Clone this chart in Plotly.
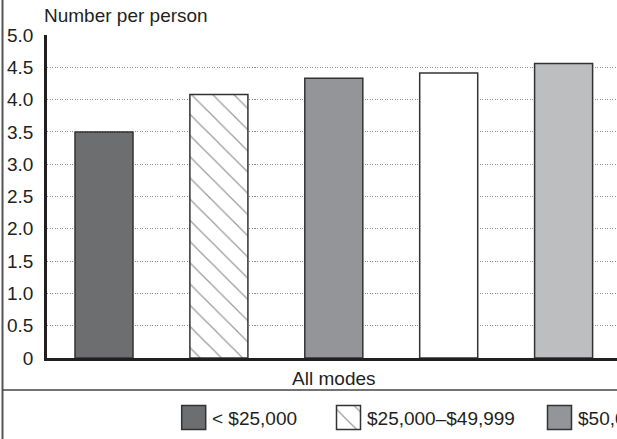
import plotly.graph_objects as go

# ---- data ----
categories = ["< $25,000", "$25,000\u2013$49,999", "$50,000\u2013$74,999",
              "$75,000\u2013$99,999", "$100,000 or more"]
values = [3.50, 4.08, 4.33, 4.41, 4.56]
group_label = ["All modes"]
y_tickvals = [0, 0.5, 1.0, 1.5, 2.0, 2.5, 3.0, 3.5, 4.0, 4.5, 5.0]
y_ticktext = ["0", "0.5", "1.0", "1.5", "2.0", "2.5", "3.0", "3.5", "4.0", "4.5", "5.0"]
y_title = "Number per person"

# ---- styles ----
W, H = 617, 439
FONT = "Liberation Sans, Arial, sans-serif"
FS = 19
TXT = "#231f20"
fills = ["#6d6e70", "white", "#939598", "white", "#bcbec0"]
patterns = ["", "\\", "", "", ""]
legend_x = [193.7, 348.5, 559.5, 760, 920]   # swatch centres in pixels

fig = go.Figure()

for i, (c, v) in enumerate(zip(categories, values)):
    pat = dict(shape=patterns[i], fgcolor="#333333", bgcolor="white",
               size=15, solidity=0.08, fillmode="overlay") if patterns[i] else None
    fig.add_trace(go.Bar(
        x=[i], y=[v], width=0.505, name=c,
        marker=dict(color=fills[i], line=dict(color="#333333", width=1.5),
                    pattern=pat),
        showlegend=False, xaxis="x", yaxis="y"))
    # legend swatch on a pixel-scaled helper axis
    fig.add_trace(go.Bar(
        x=[legend_x[i]], y=[24], base=[405.5], width=24,
        marker=dict(color=fills[i], line=dict(color="#333333", width=1.5),
                    pattern=pat),
        showlegend=False, xaxis="x2", yaxis="y2", hoverinfo="skip"))

annotations = []
for i, c in enumerate(categories):
    annotations.append(dict(x=legend_x[i] + 16, y=418, xref="x2", yref="y2",
                            text=c, showarrow=False, xanchor="left",
                            yanchor="middle",
                            font=dict(family=FONT, size=FS, color=TXT)))
annotations.append(dict(x=42 / W, y=1 - 16 / H, xref="paper", yref="paper",
                        text=y_title, showarrow=False, xanchor="left",
                        yanchor="middle",
                        font=dict(family=FONT, size=FS, color=TXT)))

unit = 114.9
left_px, right_px, c0 = 47, W, 104
fig.update_layout(
    template="none",
    width=W, height=H, margin=dict(l=0, r=0, t=0, b=0),
    paper_bgcolor="white", plot_bgcolor="rgba(0,0,0,0)",
    barmode="overlay",
    font=dict(family=FONT, size=FS, color=TXT),
    xaxis=dict(domain=[left_px / W, 1], automargin=False,
               range=[(left_px - c0) / unit, (right_px - c0) / unit],
               tickvals=[2], ticktext=group_label, ticks="",
               ticklabelstandoff=1,
               showline=True, linecolor="#231f20", linewidth=2.5,
               showgrid=False, zeroline=False, fixedrange=True,
               tickfont=dict(family=FONT, size=FS, color=TXT)),
    yaxis=dict(domain=[81 / H, 404 / H], range=[0, 5.0], automargin=False,
               tickvals=y_tickvals, ticktext=y_ticktext, ticks="",
               ticklabelstandoff=7,
               showline=True, linecolor="#231f20", linewidth=2.5,
               showgrid=True, gridcolor="#8c8c8c", griddash="1px,1.5px",
               gridwidth=1,
               zeroline=False, fixedrange=True,
               tickfont=dict(family=FONT, size=FS, color=TXT)),
    xaxis2=dict(domain=[0, 1], range=[0, W], visible=False, fixedrange=True,
                automargin=False),
    yaxis2=dict(domain=[0, 48 / H], range=[439, 391], visible=False,
                fixedrange=True, automargin=False),
    annotations=annotations,
    shapes=[
        dict(type="line", xref="paper", yref="paper", x0=2.5 / W, x1=2.5 / W,
             y0=0, y1=1, line=dict(color="#555555", width=2)),
        dict(type="line", xref="paper", yref="paper", x0=2.5 / W, x1=1,
             y0=1 - 390 / H, y1=1 - 390 / H, line=dict(color="#444444", width=1.5)),
    ],
)

fig.write_html("out.html", config={"displayModeBar": False},
               post_script="document.body.style.margin='0';"
                           "document.body.style.overflow='hidden';")
